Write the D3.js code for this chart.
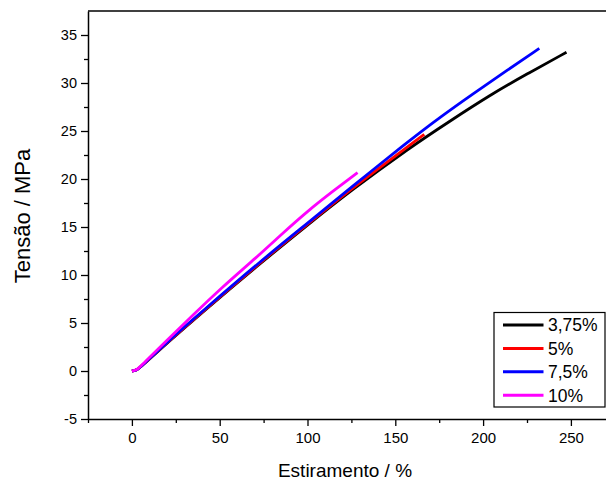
<!DOCTYPE html>
<html><head><meta charset="utf-8">
<script src="https://cdn.jsdelivr.net/npm/d3@7"></script>
<style>body{margin:0;background:#fff}svg{display:block;font-family:Arial,"Liberation Sans",sans-serif}</style>
</head><body><svg id="c" width="606" height="482"></svg>
<script>
const seriesNames = ["3,75%", "5%", "7,5%", "10%"];
const seriesColors = ["#000000", "#ff0000", "#0000ff", "#ff00ff"];
const s375 = [[0,0],[3,0.1],[6,0.6],[20,2.9],[40,6.1],[73,11.2],[100,15.2],[124,18.7],[158.5,23.3],[180,25.9],[204,28.75],[225,30.95],[247.5,33.2]];
const s5 = [[0,0],[3,0.1],[6,0.6],[20,2.95],[40,6.15],[73,11.3],[100,15.3],[124,18.85],[150,22.4],[166.5,24.65]];
const s75 = [[0,0],[3,0.1],[6,0.6],[20,3.0],[40,6.2],[73,11.4],[100,15.4],[124,19.0],[156.6,23.8],[175.6,26.45],[194.5,28.9],[213.5,31.3],[232,33.6]];
const s10 = [[0,0],[3,0.1],[6,0.7],[20,3.2],[35,5.85],[50,8.5],[72,12.0],[85,14.2],[100,16.65],[115,18.8],[128.5,20.66]];
const seriesData = [s375, s5, s75, s10];
const xTicks = [0, 50, 100, 150, 200, 250];
const xMinor = [-25, 25, 75, 125, 175, 225, 275];
const yTicks = [-5, 0, 5, 10, 15, 20, 25, 30, 35];
const yMinor = [-2.5, 2.5, 7.5, 12.5, 17.5, 22.5, 27.5, 32.5];
const xTitle = "Estiramento / %";
const yTitle = "Tensão / MPa";

const svg = d3.select("#c");
const x = d3.scaleLinear().domain([-25, 275]).range([88, 614.8]);
const y = d3.scaleLinear().domain([-5, 37.5]).range([419, 11]);

// frame top
svg.append("line").attr("x1", 88).attr("x2", 606).attr("y1", 11).attr("y2", 11)
  .attr("stroke", "#000").attr("stroke-width", 1.5);

const line = d3.line().x(d => x(d[0])).y(d => y(d[1])).curve(d3.curveBasis);
seriesData.forEach((s, i) => {
  svg.append("path").datum(s).attr("d", line).attr("fill", "none")
    .attr("stroke", seriesColors[i]).attr("stroke-width", 2.8)
    .attr("stroke-linejoin", "round").attr("stroke-linecap", "butt");
});

const fmt = d => String(d);
function styleAxis(g) {
  g.selectAll("path.domain").attr("stroke-width", 1.5);
  g.selectAll(".tick line").attr("stroke-width", 1.3);
}
const gx = svg.append("g").attr("transform", "translate(0,419)")
  .call(d3.axisBottom(x).tickValues(xTicks).tickSize(7).tickSizeOuter(0).tickPadding(6).tickFormat(fmt));
gx.selectAll("text").attr("font-size", 15).attr("fill", "#000").attr("font-family", "Arial, 'Liberation Sans', sans-serif");
styleAxis(gx);
const gxm = svg.append("g").attr("transform", "translate(0,419)")
  .call(d3.axisBottom(x).tickValues(xMinor).tickSize(4).tickSizeOuter(0).tickFormat(""));
gxm.select("path.domain").remove();
styleAxis(gxm);

const gy = svg.append("g").attr("transform", "translate(88,0)")
  .call(d3.axisLeft(y).tickValues(yTicks).tickSize(7).tickSizeOuter(0).tickPadding(4).tickFormat(fmt));
gy.selectAll("text").attr("font-size", 14.5).attr("fill", "#000").attr("font-family", "Arial, 'Liberation Sans', sans-serif");
styleAxis(gy);
const gym = svg.append("g").attr("transform", "translate(88,0)")
  .call(d3.axisLeft(y).tickValues(yMinor).tickSize(4).tickSizeOuter(0).tickFormat(""));
gym.select("path.domain").remove();
styleAxis(gym);

svg.append("text").attr("x", 345).attr("y", 477).attr("text-anchor", "middle")
  .attr("font-size", 19).text(xTitle);
svg.append("text").attr("transform", "translate(30,216) rotate(-90)").attr("text-anchor", "middle")
  .attr("font-size", 22).text(yTitle);

// legend
const lg = svg.append("g");
lg.append("rect").attr("x", 494).attr("y", 312.5).attr("width", 111).attr("height", 94.5)
  .attr("fill", "#fff").attr("stroke", "#000").attr("stroke-width", 1.2);
seriesNames.forEach((n, i) => {
  const cy = 325 + i * 23.4;
  lg.append("line").attr("x1", 503).attr("x2", 543.5).attr("y1", cy).attr("y2", cy)
    .attr("stroke", seriesColors[i]).attr("stroke-width", 3);
  lg.append("text").attr("x", 548).attr("y", cy + 6.3).attr("font-size", 17.5).text(n);
});
</script></body></html>
